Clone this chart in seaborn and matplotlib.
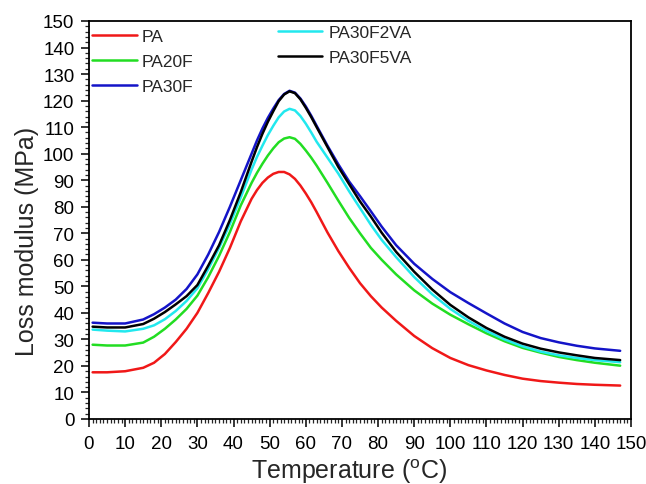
import numpy as np
import pandas as pd
import matplotlib
matplotlib.use("Agg")
import matplotlib.pyplot as plt
from matplotlib.ticker import MultipleLocator
from matplotlib.lines import Line2D
import seaborn as sns

# ---- data ----
temperature = [1, 5, 10, 15, 18, 21, 24, 27, 30, 33, 36, 39, 42, 45, 46.5, 48, 49.5,
               51, 52.5, 54, 55.5, 57, 58.5, 60, 61.5, 63, 66, 69, 72, 75, 78, 81, 85,
               90, 95, 100, 105, 110, 115, 120, 125, 130, 135, 140, 147]

pa = [17.6, 17.6, 18.0, 19.3, 21.2, 24.5, 29.0, 34.0, 40.0, 47.5, 55.5, 64.5, 74.5,
      83.0, 86.3, 89.0, 91.0, 92.4, 93.1, 93.1, 92.2, 90.5, 88.0, 85.0, 81.7, 78.0,
      70.3, 63.3, 57.0, 51.2, 46.3, 42.0, 37.0, 31.3, 26.7, 23.0, 20.3, 18.3, 16.6,
      15.2, 14.3, 13.7, 13.2, 12.9, 12.6]
pa20f = [28.0, 27.7, 27.7, 28.8, 31.0, 34.0, 37.5, 41.5, 46.5, 53.5, 61.5, 70.5, 80.5,
         89.0, 92.8, 96.2, 99.3, 102.0, 104.3, 105.7, 106.2, 105.6, 103.7, 101.2, 98.5,
         95.5, 89.0, 82.3, 75.8, 70.0, 64.5, 60.0, 54.5, 48.5, 43.5, 39.3, 35.7, 32.3,
         29.3, 26.8, 25.0, 23.4, 22.2, 21.2, 20.1]
pa30f = [36.3, 36.0, 36.0, 37.5, 39.5, 42.0, 45.0, 49.0, 54.5, 62.0, 70.5, 80.0, 90.0,
         100.0, 105.0, 109.5, 113.5, 117.0, 120.2, 122.5, 123.7, 123.0, 120.8, 117.8,
         114.3, 110.5, 103.0, 96.0, 89.5, 84.0, 78.3, 72.5, 65.5, 58.5, 52.8, 47.8,
         43.7, 39.8, 36.0, 32.8, 30.5, 28.9, 27.6, 26.6, 25.7]
pa30f2va = [33.7, 33.3, 33.0, 34.0, 35.3, 37.6, 40.7, 44.5, 49.3, 56.5, 64.5, 73.5,
            83.5, 94.0, 98.8, 103.0, 107.0, 110.5, 113.7, 115.9, 116.9, 116.3, 114.2,
            111.3, 108.0, 104.5, 98.5, 92.5, 85.8, 79.5, 73.2, 67.5, 61.0, 53.5, 47.0,
            41.5, 37.0, 33.2, 30.0, 27.4, 25.4, 24.0, 23.0, 22.2, 21.4]
pa30f5va = [34.8, 34.5, 34.5, 35.8, 37.8, 40.3, 43.2, 46.3, 50.5, 57.8, 65.5, 75.0,
            85.5, 97.0, 102.5, 107.5, 112.0, 116.0, 119.8, 122.3, 123.5, 122.8, 120.5,
            117.3, 113.8, 110.0, 102.5, 95.0, 88.5, 82.0, 76.3, 70.2, 63.0, 55.5, 48.8,
            43.0, 38.3, 34.3, 31.0, 28.4, 26.5, 25.1, 24.0, 23.0, 22.2]

series_names = ["PA", "PA20F", "PA30F", "PA30F2VA", "PA30F5VA"]
series_values = [pa, pa20f, pa30f, pa30f2va, pa30f5va]
colors = ["#f01818", "#22dd22", "#1414c8", "#22e8ee", "#000000"]

x_ticks = list(range(0, 151, 10))
y_ticks = list(range(0, 151, 10))

df = pd.concat([pd.DataFrame({"T": temperature, "E": v, "sample": n})
                for n, v in zip(series_names, series_values)], ignore_index=True)

# ---- figure ----
sns.set_style("ticks")
plt.rcParams["font.family"] = ["Liberation Sans", "DejaVu Sans"]
plt.rcParams["mathtext.default"] = "regular"

fig = plt.figure(figsize=(6.46, 4.85), dpi=100)
ax = fig.add_axes([89 / 646, 1 - 420 / 485, (631 - 89) / 646, (420 - 22) / 485])

sns.lineplot(data=df, x="T", y="E", hue="sample", hue_order=series_names,
             palette=dict(zip(series_names, colors)), linewidth=1.8,
             ax=ax, legend=False, sort=False)

ax.set_xlim(0, 150)
ax.set_ylim(0, 150)
ax.set_xticks(x_ticks)
ax.set_yticks(y_ticks)
ax.xaxis.set_minor_locator(MultipleLocator(1))
ax.yaxis.set_minor_locator(MultipleLocator(2))
ax.tick_params(which="major", direction="out", length=6, width=1.1, labelsize=13.5,
               colors="black")
ax.tick_params(axis="x", which="major", pad=5.5)
ax.tick_params(axis="y", which="major", pad=4.5)
ax.tick_params(which="minor", direction="out", length=3, width=0.9)
for s in ax.spines.values():
    s.set_linewidth(1.3)
    s.set_color("black")

ax.set_xlabel(r"Temperature ($^{o}$C)", fontsize=18)
ax.set_ylabel("Loss modulus (MPa)", fontsize=18)
ax.xaxis.set_label_coords(0.48, -0.094)
ax.yaxis.set_label_coords(-0.092, 0.448)

handles = [Line2D([], [], color=c, lw=1.8) for c in colors]
leg1 = ax.legend(handles[:3], series_names[:3], loc="upper left",
                 bbox_to_anchor=(92 / 646, 1 - 30 / 485), bbox_transform=fig.transFigure,
                 frameon=False, fontsize=12.5, handlelength=2.6, handletextpad=0.25,
                 labelspacing=0.57, borderpad=0, borderaxespad=0)
ax.add_artist(leg1)
ax.legend(handles[3:], series_names[3:], loc="upper left",
          bbox_to_anchor=(278 / 646, 1 - 26 / 485), bbox_transform=fig.transFigure,
          frameon=False, fontsize=12.5, handlelength=2.55, handletextpad=0.35,
          labelspacing=0.57, borderpad=0, borderaxespad=0)

fig.savefig("out.png", dpi=100, facecolor="white")
